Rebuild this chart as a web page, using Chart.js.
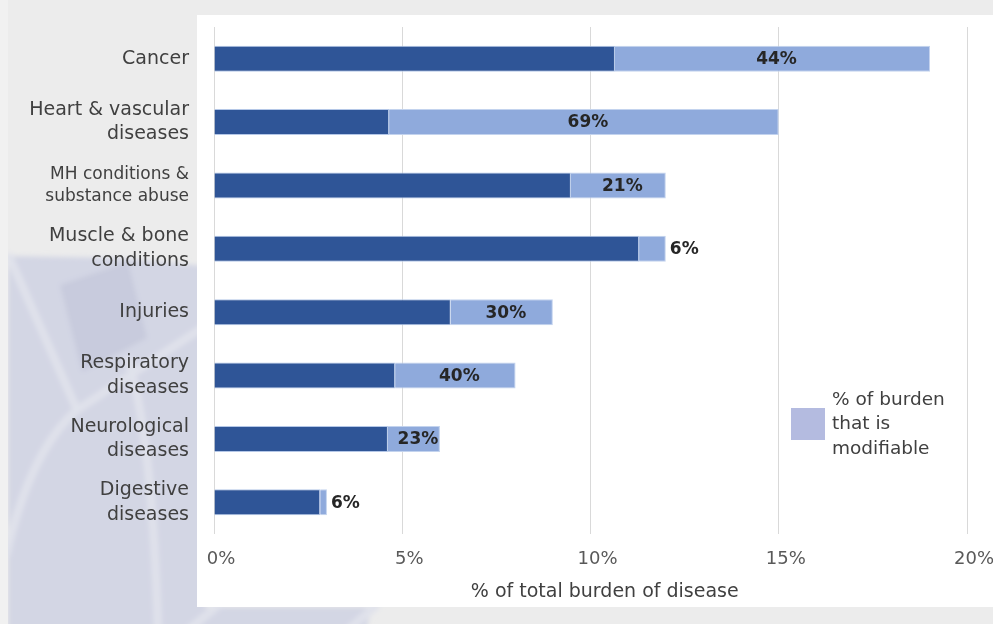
<!DOCTYPE html>
<html>
<head>
<meta charset="utf-8">
<script src="https://cdn.jsdelivr.net/npm/chart.js@4"></script>
<style>
  html, body { margin: 0; padding: 0; }
  body { width: 993px; height: 624px; background: #ececec; position: relative; overflow: hidden; font-family: "DejaVu Sans", sans-serif; }
  #mark { position: absolute; left: 0; top: 0; }
  #panel { position: absolute; left: 197px; top: 15px; width: 796px; height: 592px; background: #ffffff; }
  #wrap { position: absolute; left: 0; top: 0; width: 993px; height: 624px; }
</style>
</head>
<body>
<svg id="mark" width="993" height="624">
  <defs>
    <filter id="soft" x="-10%" y="-10%" width="120%" height="120%"><feGaussianBlur stdDeviation="2.5"/></filter>
  </defs>
  <rect x="0" y="0" width="8" height="624" fill="#f1f1f1"/>
  <g filter="url(#soft)">
    <polygon points="8,256 120,258 205,266 205,607 372,607 366,630 8,630" fill="#d3d6e4"/>
    <polygon points="60,285 128,262 147,338 82,372" fill="#c8cbdd"/>
    <g stroke="#e0e2eb" stroke-width="8" fill="none">
      <path d="M 8 254 L 77 410"/>
      <path d="M 77 410 L 205 326"/>
      <path d="M 6 556 Q 30 450 77 410"/>
      <path d="M 127 357 Q 152 430 158 630"/>
      <path d="M 188 630 L 220 604"/>
      <path d="M 348 630 L 378 604"/>
    </g>
  </g>
  <rect x="0" y="0" width="8" height="624" fill="#f1f1f1"/>
</svg>
<div id="panel"></div>
<div id="wrap"><canvas id="burden" width="993" height="624"></canvas></div>
<script>
var categories = [["Cancer"], ["Heart & vascular", "diseases"], ["MH conditions &", "substance abuse"], ["Muscle & bone", "conditions"], ["Injuries"], ["Respiratory", "diseases"], ["Neurological", "diseases"], ["Digestive", "diseases"]];
// % of total burden of disease, split into non-modifiable and modifiable parts
var nonModifiable = [10.65, 4.65, 9.48, 11.29, 6.29, 4.81, 4.62, 2.82];
var modifiable = [8.37, 10.35, 2.52, 0.71, 2.71, 3.20, 1.38, 0.18];
var modifiableShare = ["44%", "69%", "21%", "6%", "30%", "40%", "23%", "6%"];
var xTicks = [0, 5, 10, 15, 20];
var legendLines = ["% of burden", "that is", "modifiable"];

var fontName = '"DejaVu Sans", sans-serif';

// labels with the modifiable share, inside the light part or just after it
var shareLabels = {
    id: 'shareLabels',
    afterDatasetsDraw: function (chart) {
        var ctx = chart.ctx;
        var meta = chart.getDatasetMeta(1);
        ctx.save();
        ctx.font = 'bold 17px ' + fontName;
        ctx.fillStyle = '#262626';
        ctx.textBaseline = 'middle';
        meta.data.forEach(function (bar, i) {
            var txt = modifiableShare[i];
            var w = ctx.measureText(txt).width;
            if (bar.x - bar.base > w + 8) {
                ctx.textAlign = 'center';
                ctx.fillText(txt, (bar.x + bar.base) / 2 + 4, bar.y + 1);
            } else {
                ctx.textAlign = 'left';
                ctx.fillText(txt, bar.x + 4, bar.y + 1);
            }
        });
        ctx.restore();
    }
};

// single legend entry, wrapped over three lines
var sideLegend = {
    id: 'sideLegend',
    afterDraw: function (chart) {
        var ctx = chart.ctx;
        ctx.save();
        ctx.fillStyle = '#b4bbe0';
        ctx.fillRect(791, 408, 34, 32);
        ctx.font = '18.5px ' + fontName;
        ctx.fillStyle = '#404040';
        ctx.textAlign = 'left';
        ctx.textBaseline = 'middle';
        legendLines.forEach(function (line, i) {
            ctx.fillText(line, 832, 400 + i * 24.5);
        });
        ctx.restore();
    }
};

var el = document.getElementById("burden");
var burdenChart = new Chart(el, {
    type: 'bar',
    data: {
        labels: categories,
        datasets: [{
            label: 'Not modifiable',
            data: nonModifiable,
            backgroundColor: '#2f5597',
            borderColor: '#b4c7e7',
            borderWidth: 1,
            barPercentage: 0.41,
            categoryPercentage: 1
        }, {
            label: '% of burden that is modifiable',
            data: modifiable,
            backgroundColor: '#8faadc',
            borderColor: '#c3d3ee',
            borderWidth: 1,
            barPercentage: 0.41,
            categoryPercentage: 1
        }]
    },
    options: {
        indexAxis: 'y',
        responsive: false,
        animation: false,
        layout: { padding: { top: 27, right: 26, bottom: 0, left: 0 } },
        plugins: {
            legend: { display: false },
            tooltip: { enabled: false }
        },
        scales: {
            x: {
                stacked: true,
                min: 0,
                max: 20,
                afterBuildTicks: function (scale) {
                    scale.ticks = xTicks.map(function (v) { return { value: v }; });
                },
                afterFit: function (scale) {
                    scale.height = 90;
                    scale.paddingLeft = 0;
                    scale.paddingRight = 0;
                },
                grid: { color: '#d9d9d9', drawTicks: false },
                border: { display: false },
                ticks: {
                    padding: 15,
                    labelOffset: 7,
                    color: '#595959',
                    font: { family: fontName, size: 18 },
                    callback: function (v) { return v + '%'; }
                },
                title: {
                    display: true,
                    text: '\u2002\u2002\u2002% of total burden of disease',
                    color: '#404040',
                    font: { family: fontName, size: 19 },
                    padding: { top: 0, bottom: 21 }
                }
            },
            y: {
                stacked: true,
                afterFit: function (scale) {
                    scale.width = 214;
                    scale.paddingTop = 0;
                    scale.paddingBottom = 0;
                },
                grid: { display: false, drawTicks: false },
                border: { display: false },
                ticks: {
                    padding: 25,
                    color: '#404040',
                    font: function (c) {
                        return { family: fontName, size: c.index === 2 ? 17 : 19, lineHeight: 1.3 };
                    }
                }
            }
        }
    },
    plugins: [shareLabels, sideLegend]
});
</script>
</body>
</html>
